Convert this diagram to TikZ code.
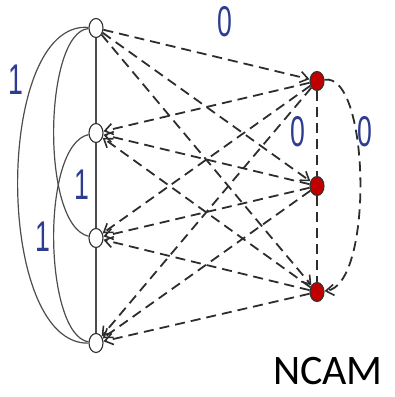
\documentclass[tikz,border=0pt]{standalone}
\usepackage{fontspec}
\usepackage{tikz}
\usetikzlibrary{arrows.meta,shapes.geometric}
\newfontfamily\labfont{Liberation Sans}
\newfontfamily\capfont{Carlito}
\definecolor{edgegray}{RGB}{45,45,45}
\definecolor{nodered}{RGB}{192,0,0}
\definecolor{labblue}{RGB}{45,60,145}
\tikzset{
  plain/.style={edgegray!85,line width=1.2pt},
  tie/.style={edgegray,line width=1.8pt,dash pattern=on 10pt off 6pt},
  link/.style={tie,-{Straight Barb[length=8pt,width=11pt,line width=1.6pt]}},
  hollow/.style={ellipse,draw=edgegray,line width=1.1pt,fill=white,
                 minimum width=14pt,minimum height=19pt,inner sep=0pt},
  filled/.style={hollow,draw=black!80,fill=nodered},
  lab/.style={font=\labfont\fontsize{43}{46}\selectfont,text=labblue,
              inner sep=0pt,xscale=0.62,transform shape},
}

\begin{document}
\begin{tikzpicture}[x=1pt,y=-1pt]
  \path[use as bounding box] (0,0) rectangle (395,397);

  \node[hollow] (w1) at (96,28) {};
  \node[hollow] (w2) at (96,133) {};
  \node[hollow] (w3) at (96,238) {};
  \node[hollow] (w4) at (96,343) {};
  \node[filled] (r1) at (317,81) {};
  \node[filled] (r2) at (317,186) {};
  \node[filled] (r3) at (317,292) {};

  % left side
  \draw[plain] (w1) -- (w2) -- (w3) -- (w4);
  \draw[plain] (w1) .. controls (-6,20) and (-6,345) .. (w4);
  \draw[plain] (w1) .. controls (44,32) and (40,225) .. (w3);
  \draw[plain] (w2) .. controls (40,145) and (44,335) .. (w4);

  % right side
  \draw[tie] (r1) -- (r2);
  \draw[tie] (r2) -- (r3);
  \draw[link] (r1) .. controls (370,72) and (374,285) .. (r3);

  % across
  \draw[link] (w1) -- (r1);
  \draw[link] (w1) -- (r2);
  \draw[link] (w1) -- (r3);
  \draw[link] (r1) -- (w2);
  \draw[link] (r2) -- (w2);
  \draw[link] (r3) -- (w2);
  \draw[link] (r1) -- (w3);
  \draw[link] (r2) -- (w3);
  \draw[link] (r3) -- (w3);
  \draw[link] (r1) -- (w4);
  \draw[link] (r2) -- (w4);
  \draw[link] (r3) -- (w4);

  \node[lab] (l1) at (225,22) {0};
  \node[lab] (l2) at (298,132) {0};
  \node[lab] (l3) at (365,132) {0};
  \node[lab] (l4) at (16,80) {1};
  \node[lab] (l5) at (82,185) {1};
  \node[lab] (l6) at (43,237) {1};

  \node[font=\capfont\fontsize{42}{46}\selectfont,inner sep=0pt] (cap) at (328,371) {NCAM};
\end{tikzpicture}
\end{document}
